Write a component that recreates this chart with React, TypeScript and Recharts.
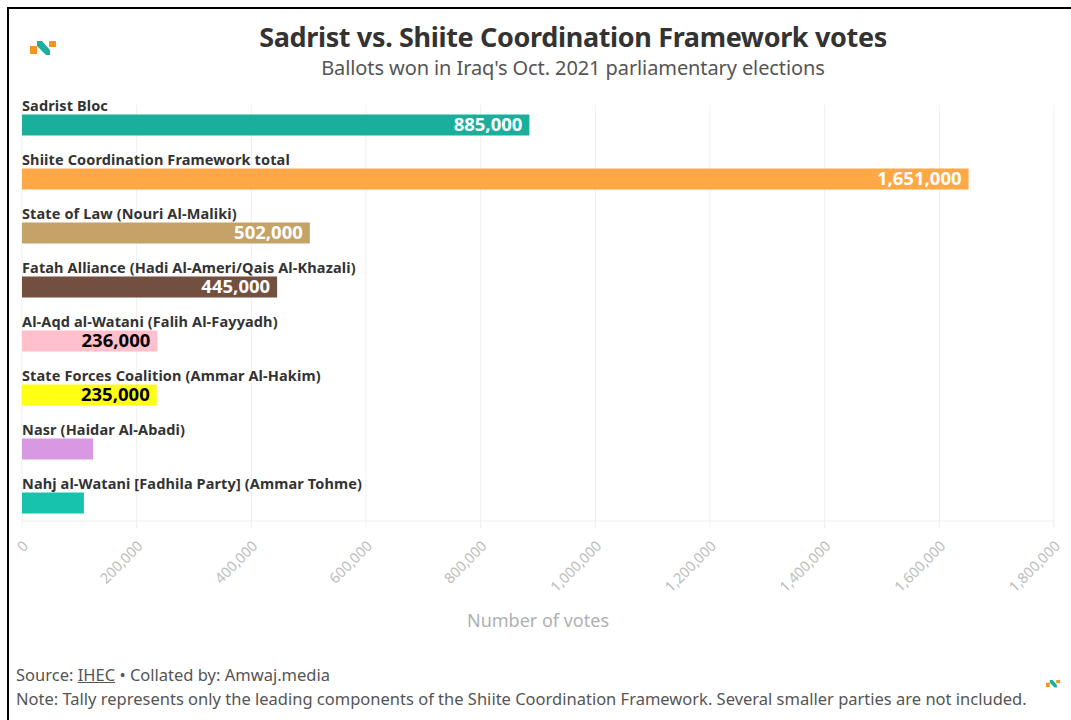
import React from 'react';
import { BarChart, Bar, Cell, CartesianGrid, LabelList, XAxis, YAxis } from 'recharts';

const parties = [
  'Sadrist Bloc',
  'Shiite Coordination Framework total',
  'State of Law (Nouri Al-Maliki)',
  'Fatah Alliance (Hadi Al-Ameri/Qais Al-Khazali)',
  'Al-Aqd al-Watani (Falih Al-Fayyadh)',
  'State Forces Coalition (Ammar Al-Hakim)',
  'Nasr (Haidar Al-Abadi)',
  'Nahj al-Watani [Fadhila Party] (Ammar Tohme)',
];
const votes = [885000, 1651000, 502000, 445000, 236000, 235000, 124000, 108000];
const xTicks = [0, 200000, 400000, 600000, 800000, 1000000, 1200000, 1400000, 1600000, 1800000];

const BAR_COLORS = ['#1aaf9b', '#ffa845', '#c4a268', '#724f3f', '#ffc0cb', '#ffff14', '#d899e2', '#17c3ad'];
const VALUE_COLORS = ['#fff', '#fff', '#fff', '#fff', '#000', '#000', '#fff', '#fff'];
const FONT = '"Noto Sans", sans-serif';

const rows = parties.map((party, i) => ({ party, votes: votes[i] }));
const fmt = (n: number) => n.toLocaleString('en-US');

const NameLabel = ({ x, y, value }: any) => (
  <text x={x} y={y - 4} fontFamily={FONT} fontSize={14.5} fontWeight={700} fill="#333" letterSpacing={0.12}>
    {value}
  </text>
);

// the two shortest bars have no room for a value
const ValueLabel = ({ x, y, width, height, value, index }: any) =>
  width < 100 ? null : (
    <text
      x={x + width - 7}
      y={y + height / 2 + 6}
      textAnchor="end"
      fontFamily={FONT}
      fontSize={18.5}
      fontWeight={700}
      fill={VALUE_COLORS[index]}
    >
      {fmt(value)}
    </text>
  );

const SlantTick = ({ x, y, payload }: any) => (
  <text
    x={x + 7}
    y={y + 17}
    textAnchor="end"
    transform={`rotate(-45 ${x + 7} ${y + 17})`}
    fontFamily={FONT}
    fontSize={14.5}
    fill="#bdbdbd"
    letterSpacing={-0.1}
  >
    {fmt(payload.value)}
  </text>
);

const Logo = ({ x, y, scale }: { x: number; y: number; scale: number }) => (
  <svg
    width={26 * scale}
    height={14 * scale}
    viewBox="0 0 26 14"
    style={{ position: 'absolute', left: x, top: y }}
  >
    <rect x={0} y={5} width={7} height={8} fill="#f7931e" />
    <polygon points="7,0 12,0 20,9 20,14 16,14 7,5" fill="#1aaf9b" />
    <rect x={19} y={0} width={7} height={6} fill="#f7931e" />
  </svg>
);

export default function App() {
  return (
    <div style={{ position: 'absolute', left: 0, top: 0, width: 1071, height: 720, background: '#fff', overflow: 'hidden', fontFamily: FONT }}>
      <BarChart
        width={1071}
        height={720}
        data={rows}
        layout="vertical"
        margin={{ top: 105, right: 17, bottom: 99, left: 22 }}
      >
        <CartesianGrid horizontal={false} stroke="#f0f0f0" />
        <XAxis
          type="number"
          domain={[0, 1800000]}
          ticks={xTicks}
          interval={0}
          height={100}
          stroke="#eeeeee"
          tickSize={7}
          tick={<SlantTick />}
          label={{ value: 'Number of votes', position: 'insideBottom', offset: -6, fill: '#b0b0b0', fontSize: 18, fontFamily: FONT }}
        />
        <YAxis type="category" dataKey="party" hide padding={{ top: -7.5, bottom: -8.5 }} />
        <Bar dataKey="votes" barSize={21} isAnimationActive={false}>
          {rows.map((r, i) => (
            <Cell key={r.party} fill={BAR_COLORS[i]} />
          ))}
          <LabelList dataKey="party" content={<NameLabel />} />
          <LabelList dataKey="votes" content={<ValueLabel />} />
        </Bar>
      </BarChart>

      {/* frame */}
      <div style={{ position: 'absolute', left: 7, top: 7, width: 1064, height: 713, borderLeft: '2px solid #000', borderTop: '2px solid #000', boxSizing: 'border-box' }} />

      <Logo x={30} y={41} scale={1} />
      <Logo x={1046} y={680} scale={0.54} />

      <div style={{ position: 'absolute', left: 0, width: 1146, top: 18, textAlign: 'center', fontSize: 27, fontWeight: 700, color: '#333', whiteSpace: 'nowrap', letterSpacing: -0.35 }}>
        Sadrist vs. Shiite Coordination Framework votes
      </div>
      <div style={{ position: 'absolute', left: 0, width: 1146, top: 54, textAlign: 'center', fontSize: 20, color: '#555', whiteSpace: 'nowrap', letterSpacing: -0.1 }}>
        Ballots won in Iraq's Oct. 2021 parliamentary elections
      </div>
      <div style={{ position: 'absolute', left: 16, top: 663, fontSize: 16.5, color: '#555', whiteSpace: 'nowrap' }}>
        Source: <span style={{ textDecoration: 'underline' }}>IHEC</span> • Collated by: Amwaj.media
      </div>
      <div style={{ position: 'absolute', left: 16, top: 687, fontSize: 16.5, color: '#555', whiteSpace: 'nowrap' }}>
        Note: Tally represents only the leading components of the Shiite Coordination Framework. Several smaller parties are not included.
      </div>
    </div>
  );
}
